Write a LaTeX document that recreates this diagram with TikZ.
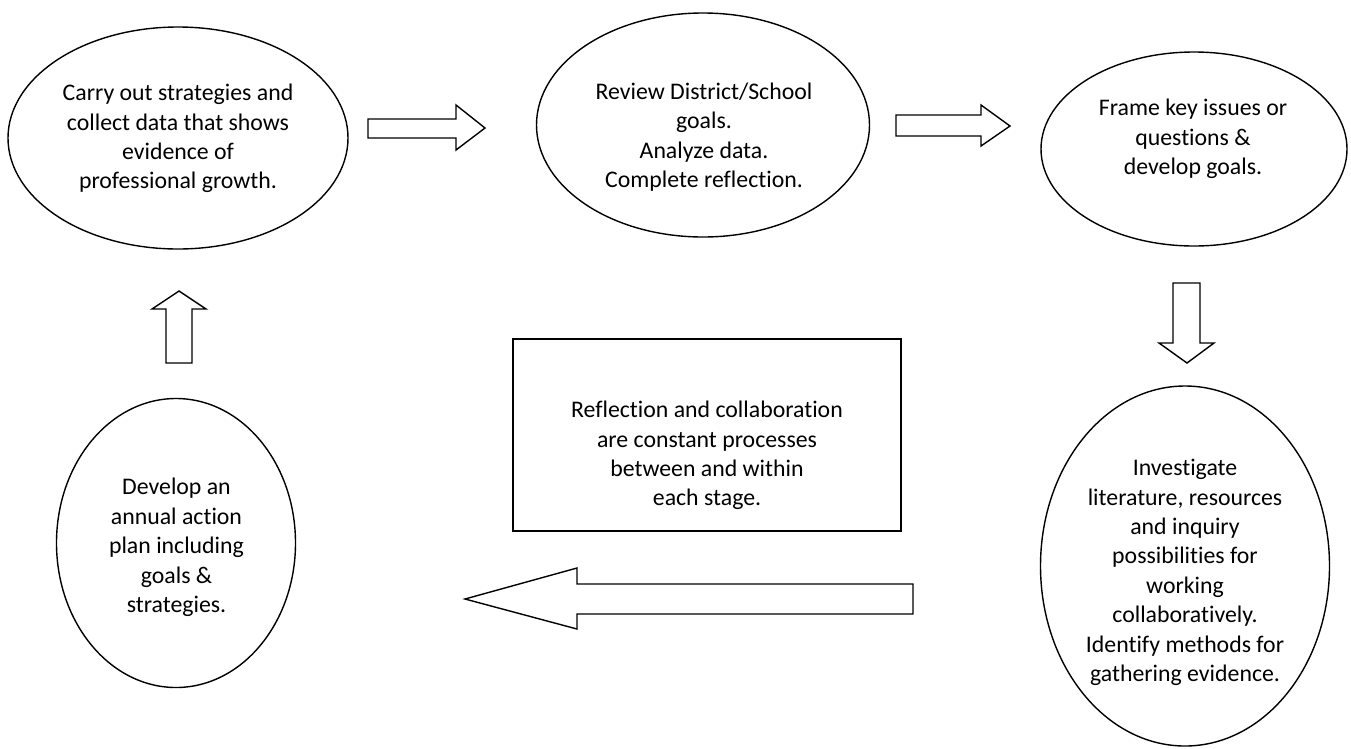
\documentclass[tikz,border=0pt]{standalone}
\usepackage{fontspec}
\setmainfont[Ligatures={NoCommon}]{Carlito}
\usetikzlibrary{shapes.geometric}
\begin{document}
\begin{tikzpicture}[x=1pt,y=-1pt,
  stage/.style={draw=black,line width=1.4pt,ellipse,inner sep=0pt},
  lbl/.style={align=center,inner sep=0pt,font=\fontsize{23.8}{29.4}\selectfont},
  blockarrow/.style={draw=black,line width=1.4pt,fill=white,line join=miter}]
\useasboundingbox (0,0) rectangle (1351,748);
% stages
\node[stage,minimum width=340pt,minimum height=222pt] (e1) at (178,138) {};
\node[lbl] (t1) at (178,138.5) {Carry out strategies and\\collect data that shows\\evidence of\\professional growth.};
\node[stage,minimum width=333pt,minimum height=224pt] (e2) at (703,125) {};
\node[lbl] (t2) at (704,137) {Review District/School\\goals.\\Analyze data.\\Complete reflection.};
\node[stage,minimum width=306pt,minimum height=194pt] (e3) at (1194,149) {};
\node[lbl] (t3) at (1193,139) {Frame key issues or\\questions \&\\develop goals.};
\node[stage,minimum width=289pt,minimum height=360pt] (e4) at (1185,566) {};
\node[lbl] (t4) at (1185,572.5) {Investigate\\literature, resources\\and inquiry\\possibilities for\\working\\collaboratively.\\Identify methods for\\gathering evidence.};
\node[stage,minimum width=239pt,minimum height=289pt] (e5) at (176,543) {};
\node[lbl] (t5) at (176.5,547.5) {Develop an\\annual action\\plan including\\goals \&\\strategies.};
% centre box
\node[draw=black,line width=1.4pt,minimum width=388pt,minimum height=192pt,inner sep=0pt] (box) at (707,435) {};
\node[lbl] (tb) at (707,455.5) {Reflection and collaboration\\are constant processes\\between and within\\each stage.};
% block arrows
\draw[blockarrow] (368,119) -- (456,119) -- (456,105) -- (485,128) -- (456,150) -- (456,138) -- (368,138) -- cycle;
\draw[blockarrow] (896,115) -- (981,115) -- (981,105) -- (1010,126) -- (981,146) -- (981,136) -- (896,136) -- cycle;
\draw[blockarrow] (1173,283) -- (1200,283) -- (1200,343) -- (1214,343) -- (1187,363) -- (1159,343) -- (1173,343) -- cycle;
\draw[blockarrow] (913,584) -- (577,584) -- (577,568) -- (465,599) -- (577,629) -- (577,614) -- (913,614) -- cycle;
\draw[blockarrow] (166,363) -- (166,309) -- (152,309) -- (179,291) -- (206,309) -- (192,309) -- (192,363) -- cycle;
\end{tikzpicture}
\end{document}
